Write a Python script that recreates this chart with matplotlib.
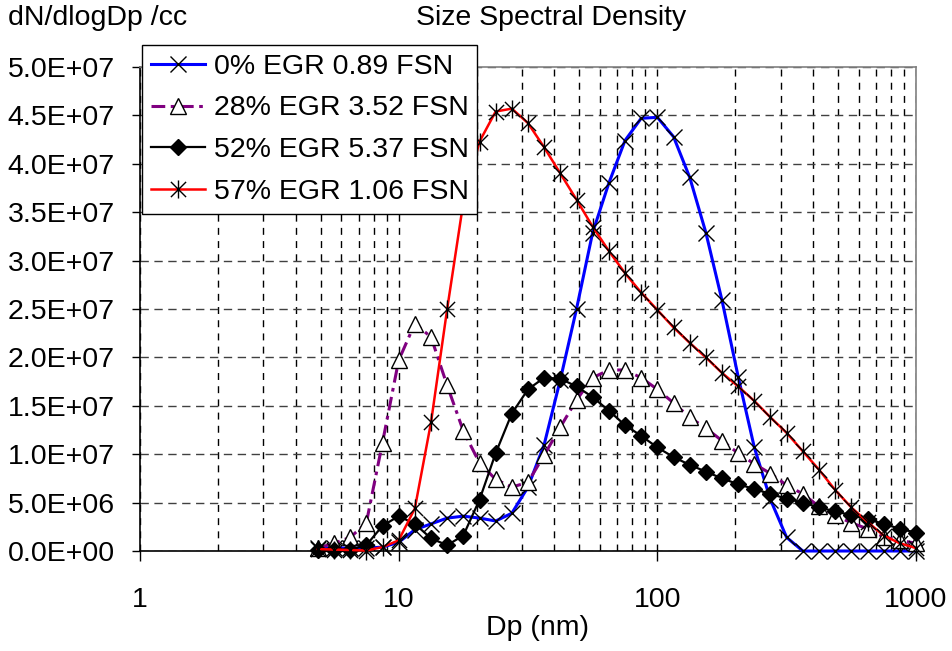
import matplotlib
matplotlib.use('Agg')
import matplotlib.pyplot as plt
from matplotlib.path import Path
from matplotlib.ticker import FixedLocator, FuncFormatter, NullFormatter
import numpy as np

plt.rcParams['font.family'] = ['Liberation Sans', 'DejaVu Sans']

# particle diameter (nm)
dp = [4.870, 5.623, 6.494, 7.499, 8.660, 10.0, 11.55, 13.34, 15.40, 17.78,
      20.54, 23.71, 27.38, 31.62, 36.52, 42.17, 48.70, 56.23, 64.94, 74.99,
      86.60, 100.0, 115.5, 133.4, 154.0, 177.8, 205.4, 237.1, 273.8, 316.2,
      365.2, 421.7, 487.0, 562.3, 649.4, 749.9, 866.0, 1000.0]

# dN/dlogDp in units of 1e6 /cc
egr0 = [0.3, 0.3, 0.3, 0.3, 0.4, 0.9, 2.2, 2.8, 3.4, 3.6,
        3.4, 3.1, 3.9, 6.6, 11.0, 17.7, 25.0, 32.9, 38.0, 42.4,
        44.7, 44.8, 42.8, 38.6, 32.9, 25.9, 18.0, 10.7, 5.3, 1.4,
        0.0, 0.0, 0.0, 0.0, 0.0, 0.0, 0.0, 0.0]
egr28 = [0.3, 0.8, 1.4, 2.9, 11.2, 19.7, 23.5, 22.1, 17.1, 12.4,
         9.1, 7.4, 6.6, 7.1, 9.9, 12.8, 15.6, 17.9, 18.7, 18.7,
         17.9, 16.7, 15.3, 13.8, 12.7, 11.4, 10.1, 9.0, 8.0, 6.8,
         5.9, 4.6, 3.7, 2.9, 2.3, 1.45, 1.1, 0.8]
egr52 = [0.1, 0.15, 0.15, 0.6, 2.6, 3.6, 2.8, 1.3, 0.6, 1.6,
         5.3, 10.1, 14.2, 16.7, 17.9, 17.8, 17.0, 15.9, 14.5, 13.0,
         11.9, 10.7, 9.7, 8.9, 8.2, 7.5, 6.9, 6.4, 5.9, 5.4,
         5.0, 4.5, 4.1, 3.7, 3.3, 2.8, 2.3, 1.9]
egr57 = [0.2, 0.15, 0.1, 0.05, 0.4, 1.1, 4.4, 13.3, 25.0, 36.0,
         42.3, 45.4, 45.7, 44.2, 41.7, 39.0, 36.3, 33.5, 31.0, 28.7,
         26.7, 24.9, 23.1, 21.5, 20.0, 18.4, 17.0, 15.5, 13.8, 12.2,
         10.3, 8.4, 6.3, 4.5, 3.0, 1.6, 0.8, 0.3]

labels = ['0% EGR 0.89 FSN', '28% EGR 3.52 FSN', '52% EGR 5.37 FSN', '57% EGR 1.06 FSN']
xticks = [1, 10, 100, 1000]
xticklabels = ['1', '10', '100', '1000']

W, H = 953, 651
fig = plt.figure(figsize=(W / 100, H / 100), dpi=100)
L, R, T, B = 140, 916, 67, 551
ax = fig.add_axes([L / W, 1 - B / H, (R - L) / W, (B - T) / H])
ax.set_xscale('log')
ax.set_xlim(1, 1000)
ax.set_ylim(0, 5e7)

FS = 20.5

# asterisk marker
ast = Path([(-0.42, -0.42), (0.42, 0.42), (-0.42, 0.42), (0.42, -0.42), (0, -0.5), (0, 0.5)],
           [Path.MOVETO, Path.LINETO, Path.MOVETO, Path.LINETO, Path.MOVETO, Path.LINETO])

sc = 1e6
x = np.array(dp)
ax.plot(x, np.array(egr0) * sc, color='#0000FF', lw=2.2, marker='x', ms=11.5,
        mec='black', mew=1.0, label=labels[0], clip_on=False, zorder=3)
ax.plot(x, np.array(egr28) * sc, color='#800080', lw=2.2, ls=(0, (4.5, 1.8, 1.2, 1.8)),
        marker='^', ms=11.5, mfc='white', mec='black', mew=1.0, label=labels[1],
        clip_on=False, zorder=4)
ax.plot(x, np.array(egr52) * sc, color='black', lw=1.6, marker='D', ms=8.5,
        mfc='black', mec='black', label=labels[2], clip_on=False, zorder=5)
ax.plot(x, np.array(egr57) * sc, color='#FF0000', lw=1.8, marker=ast, ms=13,
        mfc='none', mec='black', mew=1.0, label=labels[3], clip_on=False, zorder=6)

# grid
ax.yaxis.set_major_locator(FixedLocator(np.arange(0, 5.01e7, 5e6)))
ax.yaxis.set_major_formatter(FuncFormatter(lambda v, p: f'{v:.1E}'))
ax.xaxis.set_major_locator(FixedLocator(xticks))
ax.set_xticklabels(xticklabels)
minors = [m * 10 ** d for d in range(0, 3) for m in range(2, 10)]
ax.xaxis.set_minor_locator(FixedLocator(minors))
ax.xaxis.set_minor_formatter(NullFormatter())
ax.grid(True, which='both', axis='x', color='black', lw=1.0, ls=(0, (5, 4.5)))
ax.grid(True, which='major', axis='y', color='#404040', lw=1.0, ls=(0, (6, 4)))
ax.set_axisbelow(True)

for s in ['top', 'right']:
    ax.spines[s].set_color('#808080')
    ax.spines[s].set_linewidth(1.2)
for s in ['left', 'bottom']:
    ax.spines[s].set_color('black')
    ax.spines[s].set_linewidth(1.2)

ax.tick_params(axis='y', which='major', direction='out', length=6, width=1, pad=12,
               labelsize=FS, colors='black')
ax.tick_params(axis='x', which='major', direction='out', length=7, width=1, pad=19,
               labelsize=FS)
ax.tick_params(axis='x', which='minor', length=0)

fig.text(8 / W, 1 - 18 / H, 'dN/dlogDp /cc', fontsize=FS, ha='left', va='center')
fig.text(551 / W, 1 - 18 / H, 'Size Spectral Density', fontsize=FS, ha='center', va='center')
fig.text(538 / W, 1 - 628 / H, 'Dp (nm)', fontsize=FS, ha='center', va='center')

leg = ax.legend(loc='upper left', bbox_to_anchor=(142 / W, 1 - 45 / H),
                bbox_transform=fig.transFigure, borderaxespad=0, fontsize=FS,
                frameon=True, fancybox=False, edgecolor='black', framealpha=1,
                handlelength=1.9, handletextpad=0.32, borderpad=0.3,
                labelspacing=0.56)
leg.get_frame().set_linewidth(1.0)
leg.set_zorder(10)

fig.savefig('out.png', dpi=100)
